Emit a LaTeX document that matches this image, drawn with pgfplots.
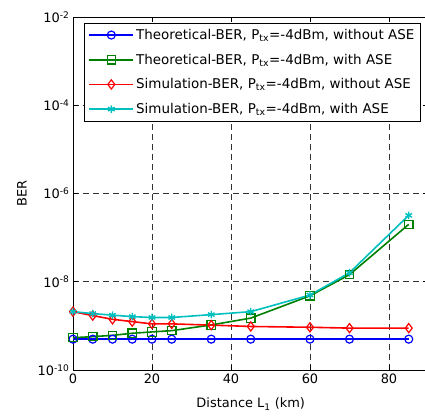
\documentclass[border=0pt]{standalone}
\usepackage{fontspec}
\setmainfont{DejaVu Sans}
\usepackage{pgfplots}
\pgfplotsset{compat=1.18}
\definecolor{mblue}{rgb}{0,0,1}
\definecolor{mgreen}{rgb}{0,0.5,0}
\definecolor{mred}{rgb}{1,0,0}
\definecolor{mcyan}{rgb}{0,0.75,0.75}
\begin{document}
\begin{tikzpicture}
\begin{axis}[
  scale only axis, width=355.5bp, height=353bp,
  xmin=0, xmax=90, ymode=log, ymin=1e-10, ymax=1e-2,
  xtick={0,20,40,60,80},
  ytick={1e-10,1e-8,1e-6,1e-4,1e-2},
  yticklabels={10\textsuperscript{-10},10\textsuperscript{-8},10\textsuperscript{-6},10\textsuperscript{-4},10\textsuperscript{-2}},
  yminorticks=false,
  grid=major,
  major grid style={black!80, dash pattern=on 6bp off 4bp, line width=0.6pt},
  tick align=inside, major tick length=5bp,
  tick style={black, line width=0.6pt},
  axis line style={black, line width=0.9pt},
  /pgf/number format/assume math mode=true,
  tick label style={font=\fontsize{13}{15}\selectfont},
  label style={font=\fontsize{13}{15}\selectfont},
  xlabel={Distance L\textsubscript{1} (km)},
  ylabel={BER},
  xlabel style={at={(axis description cs:0.5,-0.0963)}, anchor=center},
  ylabel style={at={(axis description cs:-0.1435,0.5)}, anchor=center},
  legend style={at={(1,1)}, anchor=north east, xshift=-8bp, yshift=-6bp,
    font=\fontsize{13.5}{15}\selectfont, draw=black,
    row sep=9bp, inner sep=4bp},
  legend cell align=left,
  legend image code/.code={\draw[mark repeat=2,mark phase=2] plot coordinates {(0bp,0bp)(22bp,0bp)(44bp,0bp)};},
]
\addplot[color=mblue, line width=1.6pt, mark=o, mark size=4bp, mark options={line width=1.2pt}] coordinates {
(0,5e-10)(5,5e-10)(10,5e-10)(15,5e-10)(20,5e-10)(25,5e-10)(35,5e-10)(45,5e-10)(60,5e-10)(70,5e-10)(85,5e-10)};
\addlegendentry{Theoretical-BER, P\textsubscript{tx}=-4dBm, without ASE}
\addplot[color=mgreen, line width=1.6pt, mark=square, mark size=4.2bp, mark options={line width=1.2pt}] coordinates {
(0,5.4e-10)(5,5.7e-10)(10,6.1e-10)(15,6.8e-10)(20,7.3e-10)(25,7.8e-10)(35,1.05e-9)(45,1.5e-9)(60,4.8e-9)(70,1.45e-8)(85,2e-7)};
\addlegendentry{Theoretical-BER, P\textsubscript{tx}=-4dBm, with ASE}
\addplot[color=mred, line width=1.6pt, mark=diamond, mark size=4.6bp, mark options={line width=1.2pt}] coordinates {
(0,2.1e-9)(5,1.71e-9)(10,1.41e-9)(15,1.25e-9)(20,1.11e-9)(25,1.11e-9)(35,1.04e-9)(45,9.7e-10)(60,9.3e-10)(70,8.9e-10)(85,8.9e-10)};
\addlegendentry{Simulation-BER, P\textsubscript{tx}=-4dBm, without ASE}
\addplot[color=mcyan, line width=1.6pt, mark=asterisk, mark size=3.8bp, mark options={line width=1.4pt}] coordinates {
(0,2.1e-9)(5,1.9e-9)(10,1.75e-9)(15,1.62e-9)(20,1.55e-9)(25,1.55e-9)(35,1.8e-9)(45,2.1e-9)(60,5.0e-9)(70,1.6e-8)(85,3.2e-7)};
\addlegendentry{Simulation-BER, P\textsubscript{tx}=-4dBm, with ASE}
\end{axis}
\pgfresetboundingbox
\path (current axis.south west) ++(-73bp,-46bp) coordinate (bl);
\path (current axis.north west) ++(352bp,17bp) coordinate (tr);
\path[use as bounding box] (bl) rectangle (tr);
\end{tikzpicture}
\end{document}
